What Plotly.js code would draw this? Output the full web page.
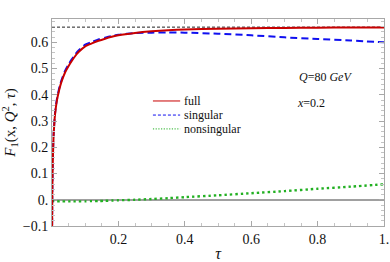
<!DOCTYPE html>
<html><head><meta charset="utf-8">
<script src="https://cdn.plot.ly/plotly-3.0.1.min.js"></script>
<style>html,body{margin:0;padding:0;background:#fff;}#chart{width:390px;height:262px;}</style>
</head><body><div id="chart"></div>
<script>
// ---- data ----
const tau = [0.0004, 0.001, 0.002, 0.003, 0.004, 0.005, 0.0065, 0.008, 0.01, 0.0125, 0.015, 0.02, 0.025, 0.03, 0.04, 0.05, 0.06, 0.07, 0.08, 0.1, 0.12, 0.14, 0.16, 0.18, 0.2, 0.25, 0.3, 0.35, 0.4, 0.5, 0.6, 0.7, 0.8, 0.9, 1.0];
const full = [-0.10, 0.03, 0.12, 0.175, 0.215, 0.25, 0.28, 0.31, 0.335, 0.36, 0.38, 0.41, 0.435, 0.455, 0.487, 0.51, 0.53, 0.548, 0.563, 0.585, 0.596, 0.606, 0.614, 0.621, 0.627, 0.636, 0.642, 0.646, 0.649, 0.652, 0.654, 0.655, 0.656, 0.657, 0.657];
const singular = [-0.097, 0.034, 0.124, 0.179, 0.22, 0.255, 0.285, 0.315, 0.34, 0.365, 0.385, 0.416, 0.441, 0.461, 0.493, 0.516, 0.536, 0.554, 0.569, 0.591, 0.601, 0.611, 0.618, 0.624, 0.629, 0.635, 0.637, 0.638, 0.637, 0.633, 0.627, 0.619, 0.613, 0.607, 0.600];
const nonsingular = [-0.003, -0.004, -0.004, -0.004, -0.005, -0.005, -0.005, -0.005, -0.005, -0.005, -0.005, -0.006, -0.006, -0.006, -0.006, -0.006, -0.006, -0.006, -0.006, -0.006, -0.005, -0.005, -0.004, -0.003, -0.002, 0.0, 0.003, 0.006, 0.010, 0.017, 0.025, 0.033, 0.042, 0.050, 0.059];
const asymptote = 0.658;
const seriesNames = ["full", "singular", "nonsingular"];
const xTickVals = [0.2, 0.4, 0.6, 0.8, 1.0];
const xTickText = ["0.2", "0.4", "0.6", "0.8", "1."];
const yTickVals = [-0.1, 0, 0.1, 0.2, 0.3, 0.4, 0.5, 0.6];
const yTickText = ["\u22120.1", "0.", "0.1", "0.2", "0.3", "0.4", "0.5", "0.6"];
const infoLines = ["<i>Q</i>=80 <i>GeV</i>", "<i>x</i>=0.2"];

// ---- styling ----
const serif = "Liberation Serif, Times New Roman, serif";
const colors = ["#c80000", "#1010f0", "#22b022"];
const dashes = ["solid", "7px,4px", "2.4px,3px"];
const legendDashes = ["solid", "3px,2px", "1.2px,1.5px"];
const widths = [2, 2, 2.4];
const series = [full, singular, nonsingular];

const traces = [];
// draw order: nonsingular, singular, full (red on top)
[2, 1, 0].forEach(i => {
  traces.push({
    x: tau, y: series[i], type: "scatter", mode: "lines", name: seriesNames[i],
    line: {color: colors[i], width: widths[i], dash: dashes[i], shape: "spline", smoothing: 0.6},
    showlegend: false, hoverinfo: "skip"
  });
});
traces.unshift({
  x: [0, 1], y: [asymptote, asymptote], type: "scatter", mode: "lines",
  line: {color: "#222", width: 1, dash: "3px,2px"}, showlegend: false, hoverinfo: "skip"
});

// manual legend (compact, like the reference)
const legX0 = 0.304, legX1 = 0.386, legTextX = 0.393;
const legY = [0.604, 0.536, 0.469];
const shapes = [];
const annotations = [];
seriesNames.forEach((nm, i) => {
  shapes.push({type: "line", xref: "paper", yref: "paper", x0: legX0, x1: legX1, y0: legY[i], y1: legY[i],
    line: {color: colors[i], width: 1, dash: legendDashes[i]}});
  annotations.push({xref: "paper", yref: "paper", x: legTextX, y: legY[i], xanchor: "left", yanchor: "middle",
    text: nm, showarrow: false, font: {family: serif, size: 12, color: "#111"}});
});
annotations.push({xref: "paper", yref: "paper", x: 0.738, y: 0.721, xanchor: "left", yanchor: "middle",
  text: infoLines[0], showarrow: false, font: {family: serif, size: 12, color: "#111"}});
annotations.push({xref: "paper", yref: "paper", x: 0.732, y: 0.596, xanchor: "left", yanchor: "middle",
  text: infoLines[1], showarrow: false, font: {family: serif, size: 12, color: "#111"}});

const frameColor = "#a8a8a8";
const layout = {
  width: 390, height: 262,
  margin: {l: 51.5, r: 6, t: 19, b: 36, pad: 0},
  paper_bgcolor: "#fff", plot_bgcolor: "#fff",
  showlegend: false,
  font: {family: serif, size: 14, color: "#111"},
  xaxis: {
    range: [0, 1], showgrid: false, zeroline: false,
    showline: true, mirror: "ticks", linecolor: frameColor, linewidth: 1,
    ticks: "inside", ticklen: 5, tickcolor: frameColor, tickwidth: 1,
    tickmode: "array", tickvals: xTickVals, ticktext: xTickText,
    tickfont: {family: serif, size: 14, color: "#111"},
    minor: {tickmode: "linear", tick0: 0, dtick: 0.05, ticks: "inside", ticklen: 3, tickcolor: "#c4c4c4", tickwidth: 1, showgrid: false},
    title: {text: "<i>τ</i>", font: {family: serif, size: 16, color: "#111"}, standoff: 3},
    automargin: false
  },
  yaxis: {
    range: [-0.1, 0.689], showgrid: false,
    zeroline: true, zerolinecolor: "#a0a0a0", zerolinewidth: 1.5,
    showline: true, mirror: "ticks", linecolor: frameColor, linewidth: 1,
    ticks: "inside", ticklen: 5, tickcolor: frameColor, tickwidth: 1,
    tickmode: "array", tickvals: yTickVals, ticktext: yTickText,
    tickfont: {family: serif, size: 14, color: "#111"},
    minor: {tickmode: "linear", tick0: 0, dtick: 0.02, ticks: "inside", ticklen: 3, tickcolor: "#c4c4c4", tickwidth: 1, showgrid: false},
    title: {text: "<i>F</i><sub>1</sub>(x, <i>Q</i><sup>2</sup>, <i>τ</i>)", font: {family: serif, size: 15, color: "#111"}, standoff: 6},
    automargin: false
  },
  shapes: shapes,
  annotations: annotations
};

Plotly.newPlot("chart", traces, layout, {displayModeBar: false, staticPlot: true});
</script>
</body></html>
